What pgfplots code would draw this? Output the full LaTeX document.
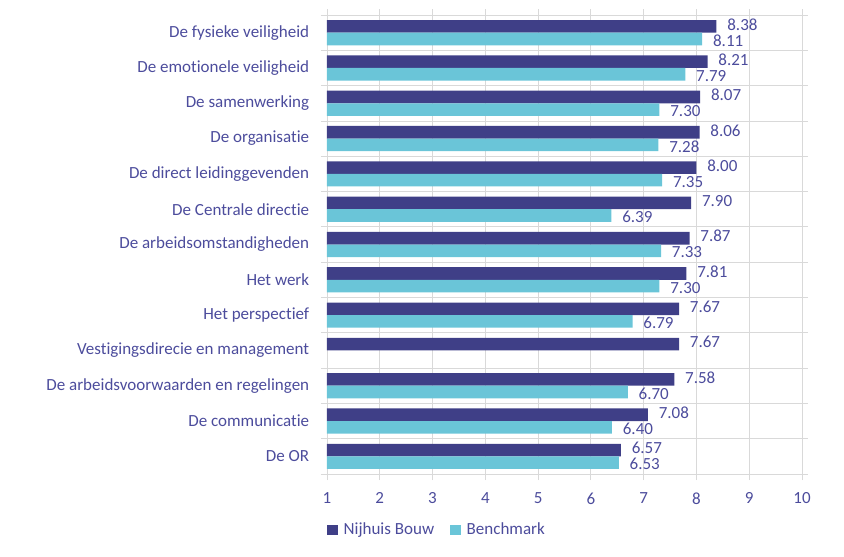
\documentclass[border=0pt]{standalone}
\usepackage{pgfplots}
\pgfplotsset{compat=1.18}
\usepackage{fontspec}
\setmainfont{Carlito}[Ligatures=NoCommon]
\definecolor{navy}{HTML}{3F3F87}
\definecolor{cyanb}{HTML}{6AC5D8}
\definecolor{txt}{HTML}{4C4C9C}
\definecolor{gridc}{HTML}{D9D9D9}
\begin{document}
\fontsize{17}{20}\selectfont
\begin{tikzpicture}
\useasboundingbox (0,0) rectangle (844pt,557pt);
\begin{axis}[
  at={(327pt,83pt)}, anchor=south west,
  scale only axis, width=475pt, height=459pt,
  xbar, bar width=12.6pt,
  xmin=1, xmax=10, xtick={1,...,10},
  ymin=-0.5, ymax=12.5, y dir=reverse,
  ytick={0,...,12},
  yticklabels={De fysieke veiligheid,De emotionele veiligheid,De samenwerking,De organisatie,De direct leidinggevenden,De Centrale directie,De arbeidsomstandigheden,Het werk,Het perspectief,Vestigingsdirecie en management,De arbeidsvoorwaarden en regelingen,De communicatie,De OR},
  minor ytick={-0.5,0.5,...,12.5},
  major tick length=6pt, minor tick length=6pt,
  tick align=outside,
  every major y tick/.append style={draw=none},
  xmajorgrids, yminorgrids,
  grid style={gridc, line width=0.8pt},
  minor grid style={gridc, line width=0.8pt},
  axis line style={gridc, line width=0.8pt},
  every tick/.style={gridc, line width=0.8pt},
  /pgf/number format/assume math mode=true,
  tick label style={font=\fontsize{17}{20}\selectfont, text=txt},
  yticklabel style={xshift=-6pt},
  xticklabel style={yshift=-7pt},
  nodes near coords,
  nodes near coords style={anchor=west, xshift=5pt, font=\fontsize{17}{20}\selectfont, text=txt, inner ysep=0pt, /pgf/number format/fixed, /pgf/number format/precision=2, /pgf/number format/fixed zerofill},
  legend style={at={(0,-0.122)}, anchor=west, draw=none, legend columns=2, font=\fontsize{17}{20}\selectfont, text=txt, inner xsep=0pt, /tikz/every odd column/.append style={column sep=4pt}, /tikz/every even column/.append style={column sep=14pt}},
  legend image code/.code={\fill[#1] (0pt,-5pt) rectangle (10.5pt,5pt);},
  clip=false,
]
\addplot[fill=navy, draw=none, bar shift=6.3pt, nodes near coords style={/tikz/yshift=2pt}] coordinates {
(8.38,0) (8.21,1) (8.07,2) (8.06,3) (8.00,4) (7.90,5) (7.87,6) (7.81,7) (7.67,8) (7.67,9) (7.58,10) (7.08,11) (6.57,12)};
\addplot[fill=cyanb, draw=none, bar shift=-6.3pt, nodes near coords style={/tikz/yshift=-1.5pt}] coordinates {
(8.11,0) (7.79,1) (7.30,2) (7.28,3) (7.35,4) (6.39,5) (7.33,6) (7.30,7) (6.79,8) (6.70,10) (6.40,11) (6.53,12)};
\legend{Nijhuis Bouw, Benchmark}
\end{axis}
\end{tikzpicture}
\end{document}
